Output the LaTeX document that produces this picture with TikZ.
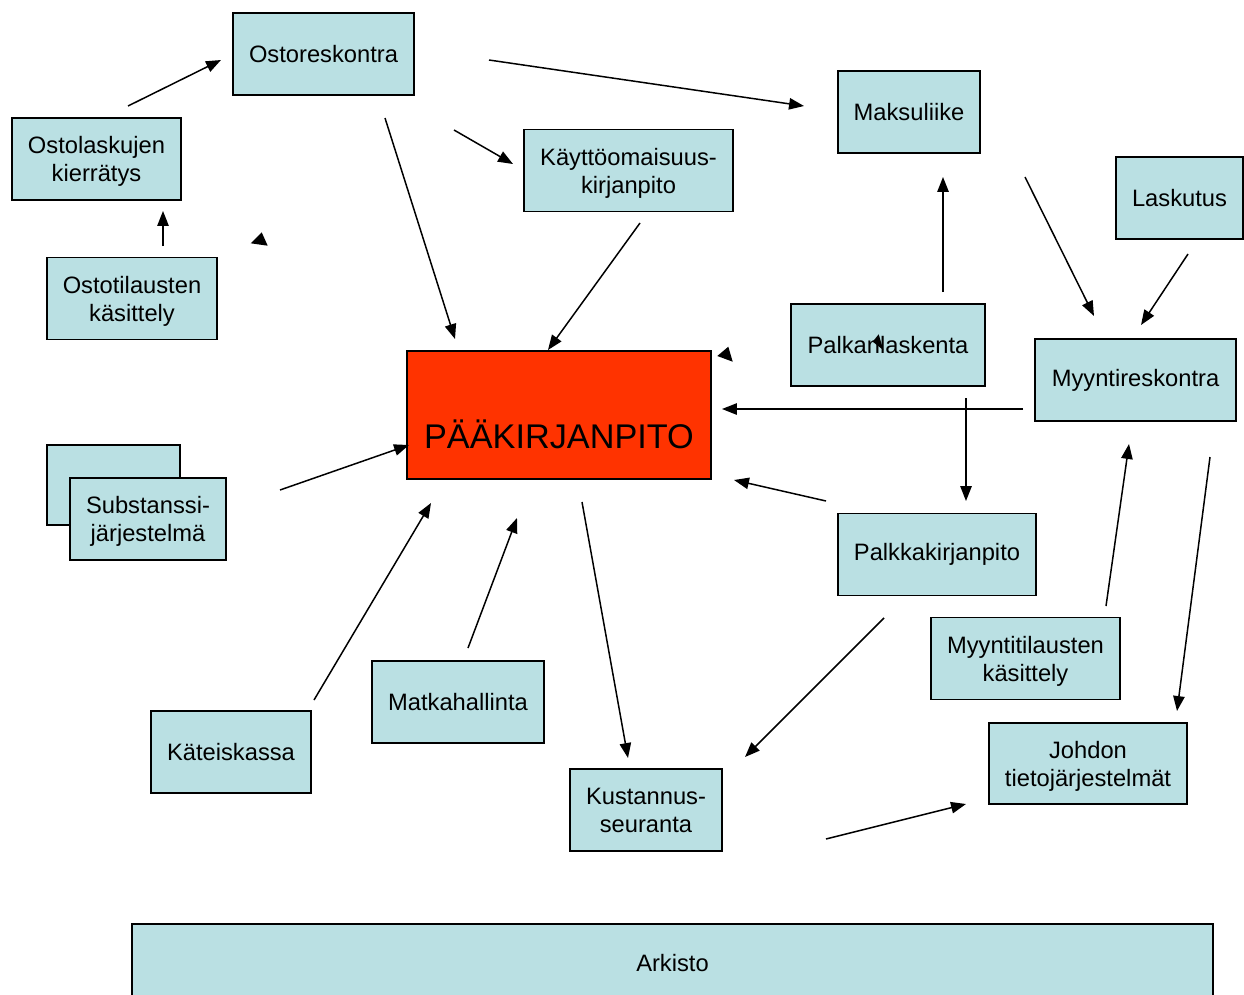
\documentclass[tikz,border=0pt]{standalone}
\usepackage{fontspec}
\setmainfont{Liberation Sans}
\usepackage{tikz}
\usetikzlibrary{arrows.meta,positioning}
\definecolor{boxcyan}{RGB}{186,224,227}
\definecolor{mainred}{RGB}{255,51,0}
\newcommand{\boxfont}{\fontsize{13.5}{16}\selectfont}
\newcommand{\bigfont}{\fontsize{19.5}{23}\selectfont}

\begin{document}
\begin{tikzpicture}[x=0.02cm, y=-0.02cm,
        box/.style={rectangle, draw=black, line width=1.1pt, fill=boxcyan, align=center, font=\boxfont, inner sep=0pt, minimum height=1.64cm},
        twoline/.style={text depth=-1pt},
        mainbox/.style={rectangle, draw=black, line width=1.1pt, fill=mainred, inner sep=0pt, minimum width=6.08cm, minimum height=2.56cm},
        arrow/.style={-{Triangle[length=8.5pt,width=6.5pt]}, line width=0.85pt, black},
        tipmark/.style={fill=black}]

        \useasboundingbox (0,0) rectangle (1244,994);

        % boxes
        \node[box, minimum width=3.62cm] (ostores) at (323.5,54) {Ostoreskontra};
        \node[box, twoline, minimum width=3.38cm] (ostolask) at (96.5,159) {Ostolaskujen\\kierrätys};
        \node[box, twoline, minimum width=3.40cm] (ostotil) at (132,298.5) {Ostotilausten\\käsittely};
        \node[box, twoline, minimum width=4.18cm] (kaytto) at (628.5,170.5) {Käyttöomaisuus-\\kirjanpito};
        \node[box, minimum width=2.84cm] (maksu) at (909,112) {Maksuliike};
        \node[box, minimum width=2.54cm] (laskutus) at (1179.5,198) {Laskutus};
        \node[box, minimum width=3.88cm] (palkanl) at (888,345) {Palkanlaskenta};
        \node[box, minimum width=4.02cm] (myyntires) at (1135.5,380) {Myyntireskontra};
        \node[mainbox, label={[font=\bigfont, yshift=-0.38cm]center:PÄÄKIRJANPITO}] (paak) at (559,415) {};
        \node[box, minimum width=2.66cm, minimum height=1.6cm] (substback) at (113.5,485) {};
        \node[box, twoline, minimum width=3.12cm] (subst) at (148,519) {Substanssi-\\järjestelmä};
        \node[box, minimum width=3.96cm] (palkkak) at (937,554.5) {Palkkakirjanpito};
        \node[box, twoline, minimum width=3.78cm] (myyntitil) at (1025.5,658.5) {Myyntitilausten\\käsittely};
        \node[box, minimum width=3.20cm] (kateis) at (231,752) {Käteiskassa};
        \node[box, minimum width=3.44cm] (matka) at (458,702) {Matkahallinta};
        \node[box, twoline, minimum width=3.04cm] (kustannus) at (646,810) {Kustannus-\\seuranta};
        \node[box, twoline, minimum width=3.96cm, minimum height=1.62cm] (johdon) at (1088,763.5) {Johdon\\tietojärjestelmät};
        \node[box, minimum width=21.62cm, minimum height=1.56cm] (arkisto) at (672.5,963) {Arkisto};

        % free arrow ends
        \coordinate (ostolask-out) at (128,106);   \coordinate (ostores-in) at (221,60);
        \coordinate (ostotil-out) at (163,246);    \coordinate (ostolask-in) at (163,211);
        \coordinate (ostores-out1) at (385,118);   \coordinate (paak-in1) at (455,339);
        \coordinate (ostores-out2) at (454,130);   \coordinate (kaytto-in) at (513,164);
        \coordinate (ostores-out3) at (489,60);    \coordinate (maksu-in) at (804,106);
        \coordinate (kaytto-out) at (640,223);     \coordinate (paak-in2) at (548,350);
        \coordinate (palkanl-out1) at (943,292);   \coordinate (maksu-in2) at (943,177);
        \coordinate (maksu-out) at (1025,177);     \coordinate (myyntires-in1) at (1094,316);
        \coordinate (laskutus-out) at (1188,254);  \coordinate (myyntires-in2) at (1141,325);
        \coordinate (myyntires-out1) at (1023,409); \coordinate (paak-in3) at (722,409);
        \coordinate (palkanl-out2) at (966,398);   \coordinate (palkkak-in) at (966,501);
        \coordinate (palkkak-out1) at (826,501);   \coordinate (paak-in4) at (734,480);
        \coordinate (myyntitil-out) at (1106,606); \coordinate (myyntires-in3) at (1129,444);
        \coordinate (myyntires-out2) at (1210,457); \coordinate (johdon-in1) at (1177,711);
        \coordinate (palkkak-out2) at (884,618);   \coordinate (kustannus-in1) at (745,757);
        \coordinate (paak-out) at (582,502);       \coordinate (kustannus-in2) at (628,758);
        \coordinate (subst-out) at (280,490);      \coordinate (paak-in5) at (409,445);
        \coordinate (kateis-out) at (314,700);     \coordinate (paak-in6) at (431,503);
        \coordinate (matka-out) at (468,648);      \coordinate (paak-in7) at (517,518);
        \coordinate (kustannus-out) at (826,839);  \coordinate (johdon-in2) at (966,804);

        % connectors
        \draw[arrow] (ostolask-out) -- (ostores-in);
        \draw[arrow] (ostotil-out) -- (ostolask-in);
        \draw[arrow] (ostores-out1) -- (paak-in1);
        \draw[arrow] (ostores-out2) -- (kaytto-in);
        \draw[arrow] (ostores-out3) -- (maksu-in);
        \draw[arrow] (kaytto-out) -- (paak-in2);
        \draw[arrow] (palkanl-out1) -- (maksu-in2);
        \draw[arrow] (maksu-out) -- (myyntires-in1);
        \draw[arrow] (laskutus-out) -- (myyntires-in2);
        \draw[arrow] (myyntires-out1) -- (paak-in3);
        \draw[arrow] (palkanl-out2) -- (palkkak-in);
        \draw[arrow] (palkkak-out1) -- (paak-in4);
        \draw[arrow] (myyntitil-out) -- (myyntires-in3);
        \draw[arrow] (myyntires-out2) -- (johdon-in1);
        \draw[arrow] (palkkak-out2) -- (kustannus-in1);
        \draw[arrow] (paak-out) -- (kustannus-in2);
        \draw[arrow] (subst-out) -- (paak-in5);
        \draw[arrow] (kateis-out) -- (paak-in6);
        \draw[arrow] (matka-out) -- (paak-in7);
        \draw[arrow] (kustannus-out) -- (johdon-in2);

        % loose arrow tips
        \fill[tipmark] (261.7,232.3) -- (250.7,243.3) -- (267.7,245.7) -- cycle;
        \fill[tipmark] (717.3,356) -- (728.3,346.7) -- (732.7,361.7) -- cycle;
        \fill[tipmark] (872.7,341.7) -- (878.7,334.3) -- (883.3,350) -- cycle;

    \end{tikzpicture}
\end{document}
